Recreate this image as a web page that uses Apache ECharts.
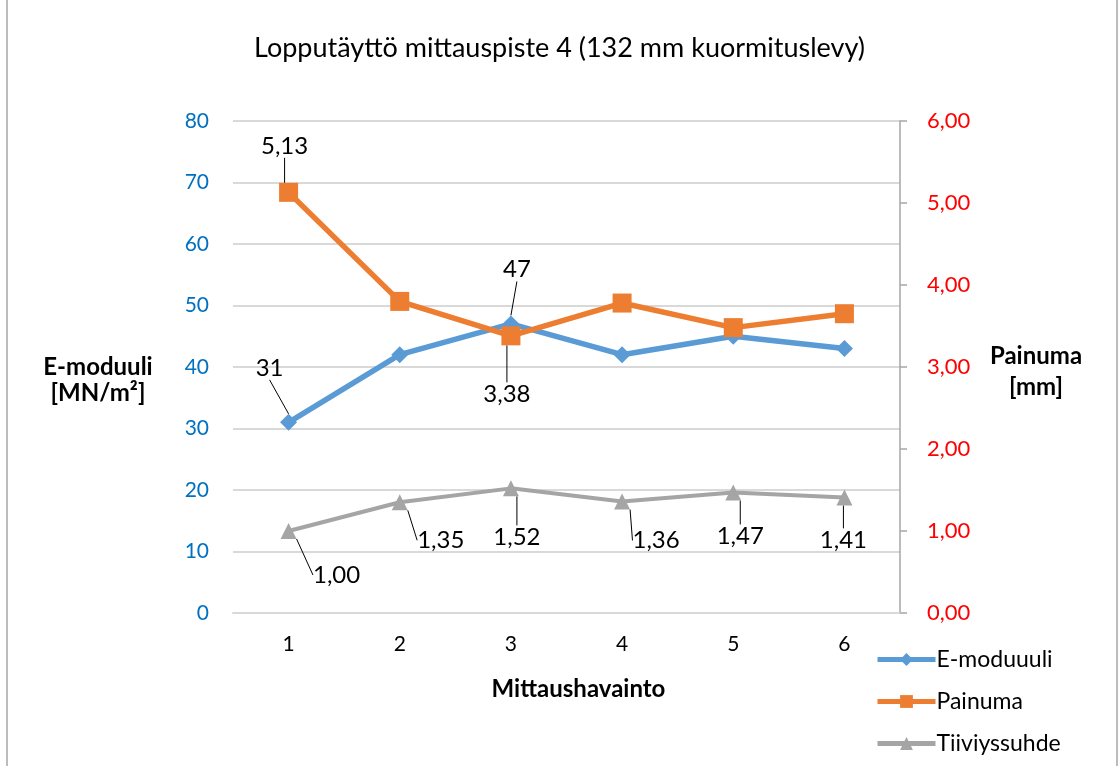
<!DOCTYPE html>
<html>
<head>
<meta charset="utf-8">
<script src="https://cdn.jsdelivr.net/npm/echarts@6/dist/echarts.min.js"></script>
<style>
  html, body { margin: 0; padding: 0; background: #fff; }
  #chart { width: 1119px; height: 766px; }
</style>
</head>
<body>
<div id="chart"></div>
<script>
const categories = ['1', '2', '3', '4', '5', '6'];
const eModuuli = [31, 42, 47, 42, 45, 43];
const painuma = [5.13, 3.80, 3.38, 3.78, 3.48, 3.65];
const tiiviyssuhde = [1.00, 1.35, 1.52, 1.36, 1.47, 1.41];

// which points carry a data label
const eLabeled = [0, 2];
const pLabeled = [0, 2];
const tLabeled = [0, 1, 2, 3, 4, 5];

// label shifts (px) away from the default 'top' position, per series
const eShift = [[-19, -29], null, [6, -29], null, null, null];
const pShift = [[-4, -20], null, [-4, 85], null, null, null];
const tShift = [[48, 69], [41, 63], [6, 74], [34, 64], [7, 69], [-1, 68]];

const fmt2 = v => v.toFixed(2).replace('.', ',');
const FONT = 'Lato, "Noto Sans", sans-serif';

function points(values, labeled) {
  return values.map((v, i) => ({
    value: v,
    label: { show: labeled.indexOf(i) >= 0 }
  }));
}

function layoutFrom(shifts) {
  return params => {
    const s = shifts[params.dataIndex];
    return s ? { dx: s[0], dy: s[1] } : {};
  };
}

const labelStyle = { color: '#000', fontSize: 24, fontFamily: FONT };
const guide = { show: true, lineStyle: { color: '#000', width: 1 } };

const chart = echarts.init(document.getElementById('chart'));

const option = {
  animation: false,
  textStyle: { fontFamily: FONT },
  graphic: [{
    type: 'rect',
    shape: { x: 7, y: -2, width: 1110, height: 790 },
    style: { fill: 'none', stroke: '#a6a6a6', lineWidth: 1.5 },
    silent: true
  }],
  title: {
    text: 'Lopputäyttö mittauspiste 4 (132 mm kuormituslevy)',
    left: 'center',
    top: 30,
    textStyle: { fontSize: 27, fontWeight: 'normal', color: '#000', fontFamily: FONT }
  },
  legend: {
    orient: 'vertical',
    left: 870,
    top: 643,
    itemWidth: 58,
    itemHeight: 16,
    itemGap: 19,
    lineStyle: { width: 5 },
    textStyle: { fontSize: 23, color: '#000', fontFamily: FONT, padding: [0, 0, 0, -4] },
    data: ['E-moduuuli', 'Painuma', 'Tiiviyssuhde']
  },
  grid: { left: 233, right: 219, top: 121, bottom: 153 },
  xAxis: {
    type: 'category',
    data: categories,
    name: 'Mittaushavainto',
    nameLocation: 'middle',
    nameGap: 64,
    nameTextStyle: { fontSize: 24, fontWeight: 'bold', color: '#000', padding: [0, 0, 0, 24] },
    axisLine: { lineStyle: { color: '#d9d9d9', width: 2 } },
    axisTick: { show: false },
    axisLabel: { color: '#000', fontSize: 21, margin: 21 }
  },
  yAxis: [
    {
      type: 'value',
      min: 0,
      max: 80,
      interval: 10,
      name: '\nE-moduuli\n[MN/m²]',
      nameLocation: 'middle',
      nameRotate: 0,
      nameGap: 135,
      nameTextStyle: {
        fontSize: 24, fontWeight: 'bold', color: '#000', align: 'center',
        verticalAlign: 'middle', lineHeight: 26
      },
      axisLine: { show: false },
      axisTick: { show: false },
      axisLabel: { color: '#0070C0', fontSize: 21, margin: 24 },
      splitLine: { lineStyle: { color: '#d9d9d9', width: 2 } }
    },
    {
      type: 'value',
      min: 0,
      max: 6,
      interval: 1,
      name: '{gap| }\nPainuma\n[mm]',
      nameLocation: 'middle',
      nameRotate: 0,
      nameGap: 136,
      nameTextStyle: {
        fontSize: 24, fontWeight: 'bold', color: '#000', align: 'center',
        verticalAlign: 'middle', lineHeight: 31,
        rich: { gap: { fontSize: 8, lineHeight: 10 } }
      },
      axisLine: { show: true, lineStyle: { color: '#a6a6a6', width: 1.5 } },
      axisTick: { show: true, length: 7, lineStyle: { color: '#a6a6a6', width: 1.5 } },
      axisLabel: { color: '#FF0000', fontSize: 22, margin: 27, formatter: fmt2 },
      splitLine: { show: false }
    }
  ],
  series: [
    {
      name: 'E-moduuuli',
      type: 'line',
      yAxisIndex: 0,
      data: points(eModuuli, eLabeled),
      symbol: 'diamond',
      symbolSize: 17,
      lineStyle: { color: '#5B9BD5', width: 5.5 },
      itemStyle: { color: '#5B9BD5' },
      label: Object.assign({ position: 'top' }, labelStyle),
      labelLine: guide,
      labelLayout: layoutFrom(eShift)
    },
    {
      name: 'Painuma',
      type: 'line',
      yAxisIndex: 1,
      data: points(painuma, pLabeled),
      symbol: 'rect',
      symbolSize: 19,
      lineStyle: { color: '#ED7D31', width: 5.5 },
      itemStyle: { color: '#ED7D31' },
      label: Object.assign({ position: 'top', formatter: p => fmt2(p.value) }, labelStyle),
      labelLine: guide,
      labelLayout: layoutFrom(pShift)
    },
    {
      name: 'Tiiviyssuhde',
      type: 'line',
      yAxisIndex: 1,
      data: points(tiiviyssuhde, tLabeled),
      symbol: 'triangle',
      symbolSize: 16,
      lineStyle: { color: '#A5A5A5', width: 4 },
      itemStyle: { color: '#A5A5A5' },
      label: Object.assign({ position: 'top', formatter: p => fmt2(p.value) }, labelStyle),
      labelLine: guide,
      labelLayout: layoutFrom(tShift)
    }
  ]
};

chart.setOption(option);
</script>
</body>
</html>
